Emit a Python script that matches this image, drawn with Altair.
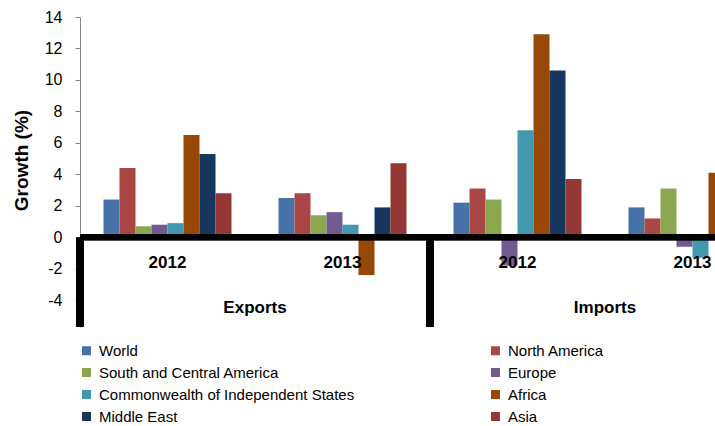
import altair as alt
import pandas as pd

# ---- data ----
flows = ["Exports", "Exports", "Imports", "Imports"]
years = ["2012", "2013", "2012", "2013"]
series = ["World", "North America", "South and Central America", "Europe",
          "Commonwealth of Independent States", "Africa", "Middle East", "Asia"]
world = [2.4, 2.5, 2.2, 1.9]
north_america = [4.4, 2.8, 3.1, 1.2]
south_central_america = [0.7, 1.4, 2.4, 3.1]
europe = [0.8, 1.6, -1.8, -0.6]
cis = [0.9, 0.8, 6.8, -1.3]
africa = [6.5, -2.4, 12.9, 4.1]
middle_east = [5.3, 1.9, 10.6, 6.0]
asia = [2.8, 4.7, 3.7, 4.4]
y_ticks = [-4, -2, 0, 2, 4, 6, 8, 10, 12, 14]

colors = ["#4672A8", "#AA4744", "#8AA64F", "#735A91",
          "#4298AF", "#974806", "#18375E", "#953735"]

FONT = "Liberation Sans"
Y_TITLE = "Growth (%)"

groups = [f"{f} {y}" for f, y in zip(flows, years)]
values = [world, north_america, south_central_america, europe, cis, africa, middle_east, asia]
rows = []
for s, vals in zip(series, values):
    for g, v in zip(groups, vals):
        rows.append({"group": g, "series": s, "value": v})
bars_df = pd.DataFrame(rows)
groups_df = pd.DataFrame({"group": groups, "flow": flows, "year": years})
flow_df = groups_df[groups_df["year"] == "2012"].reset_index(drop=True)

# legend is filled column by column: odd-position series in the first column
legend_order = series[0::2] + series[1::2]
legend_colors = [colors[series.index(s)] for s in legend_order]

x_scale = alt.Scale(domain=groups, range=[0, 700], paddingInner=0, paddingOuter=0)
y_scale = alt.Scale(domain=[-5.7, 14], nice=False, zero=False)
y_axis = alt.Axis(values=y_ticks, grid=False, domainColor="#868686",
                  tickColor="#868686", tickSize=5, labelFontSize=16,
                  labelPadding=13, labelFont=FONT, labelColor="black",
                  labelOverlap=False, labelExpr="toString(datum.value)",
                  titleFont=FONT, titleFontSize=19, titleFontWeight="bold",
                  titleColor="black", titleX=-59, titleY=143,
                  titleAngle=270, titleBaseline="middle", titleAlign="center")

bars = alt.Chart(bars_df).mark_bar(clip=True).encode(
    x=alt.X("group:N", scale=x_scale, axis=None),
    xOffset=alt.XOffset("series:N", sort=series,
                        scale=alt.Scale(range=[23.5, 151.5], paddingInner=0, paddingOuter=0)),
    y=alt.Y("value:Q", scale=y_scale, title=Y_TITLE, axis=y_axis),
    color=alt.Color("series:N",
                    scale=alt.Scale(domain=legend_order, range=legend_colors),
                    legend=alt.Legend(orient="none", legendX=-1, legendY=326,
                                      columns=2, title=None, symbolType="square",
                                      symbolSize=81, symbolStrokeWidth=0,
                                      labelFontSize=15, labelFont=FONT,
                                      labelColor="black", columnPadding=133,
                                      rowPadding=6, labelOffset=5, padding=0,
                                      labelLimit=400)),
)

zero_line = alt.Chart(groups_df).mark_rule(color="black", strokeWidth=6).encode(
    y=alt.Y(datum=0, scale=y_scale, title=Y_TITLE, axis=y_axis),
)

dividers = alt.Chart(flow_df).mark_rule(color="black", strokeWidth=8).encode(
    x=alt.X("group:N", scale=x_scale, bandPosition=0, axis=None),
    y=alt.Y(datum=0, scale=y_scale, title=Y_TITLE, axis=y_axis),
    y2=alt.datum(-5.7),
)

year_labels = alt.Chart(groups_df).mark_text(
    font=FONT, fontSize=17, fontWeight="bold", color="black"
).encode(
    x=alt.X("group:N", scale=x_scale, axis=None),
    y=alt.Y(datum=-1.65, scale=y_scale, title=Y_TITLE, axis=y_axis),
    text="year:N",
)

flow_labels = alt.Chart(flow_df).mark_text(
    font=FONT, fontSize=17, fontWeight="bold", color="black"
).encode(
    x=alt.X("group:N", scale=x_scale, bandPosition=1, axis=None),
    y=alt.Y(datum=-4.5, scale=y_scale, title=Y_TITLE, axis=y_axis),
    text="flow:N",
)

chart = alt.layer(bars, zero_line, dividers, year_labels, flow_labels).properties(
    width=635, height=310,
    autosize=alt.AutoSizeParams(type="none"),
    padding={"left": 80, "top": 17, "right": 0, "bottom": 99},
    background="white",
).configure_view(stroke=None)

chart.save("out.html", embed_options={"renderer": "svg", "actions": False})
